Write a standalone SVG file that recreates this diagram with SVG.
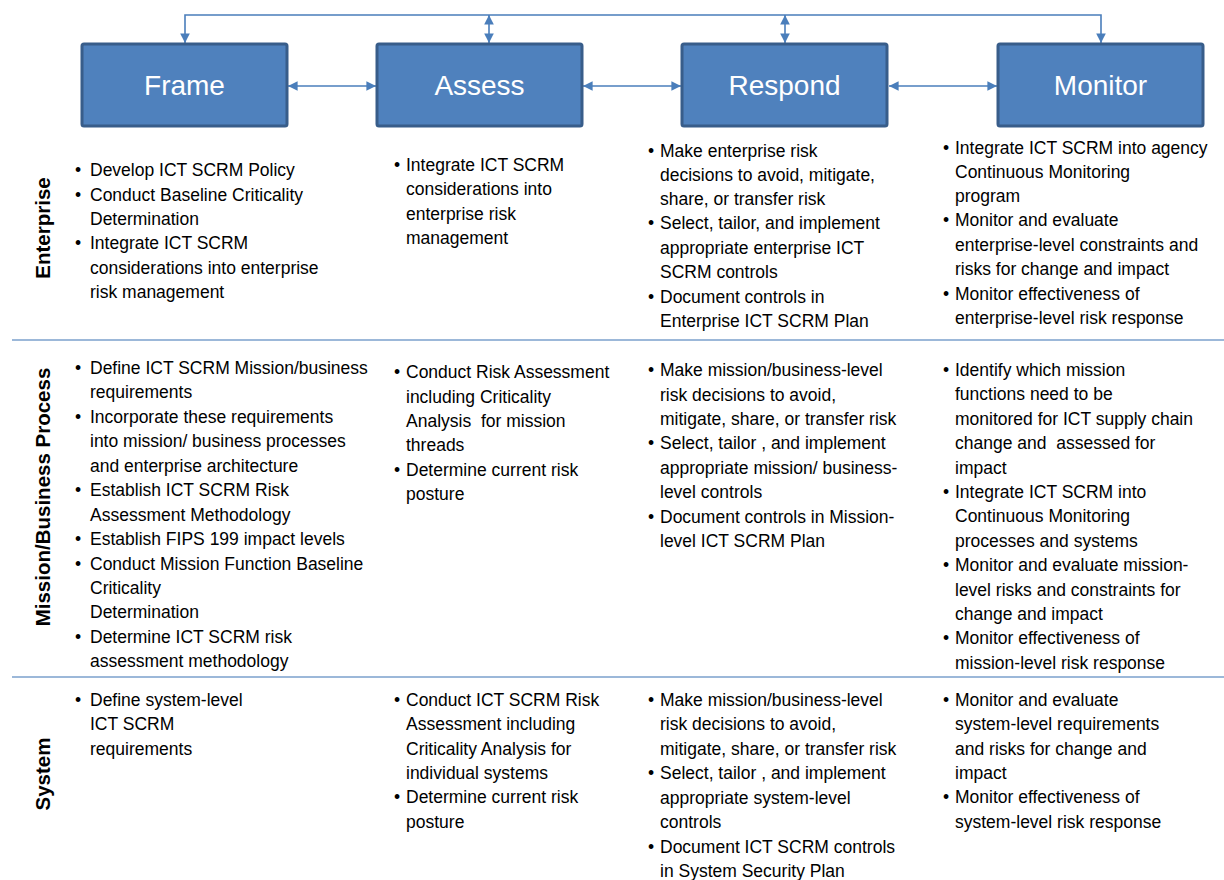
<svg xmlns="http://www.w3.org/2000/svg" width="1224" height="880" viewBox="0 0 1224 880">
<style>
.box{fill:#4f81bd;stroke:#385d8a;stroke-width:3}
.bt{font-family:"Liberation Sans",Arial,sans-serif;font-size:28px;fill:#fff;text-anchor:middle}
.t{font-family:"Liberation Sans",Arial,sans-serif;font-size:17.5px;fill:#000;white-space:pre}
.rl{font-family:"Liberation Sans",Arial,sans-serif;font-size:20.5px;font-weight:bold;fill:#000;text-anchor:middle}
.c{stroke:#4a7ebb;stroke-width:1.6;fill:none}
.sep{stroke:#7ba0cd;stroke-width:1.5}
</style>
<defs>
<marker id="ah" viewBox="0 0 10 10" refX="10" refY="5" markerWidth="6" markerHeight="6" orient="auto-start-reverse" markerUnits="strokeWidth">
<path d="M0,0 L10,5 L0,10 z" fill="#4a7ebb"/>
</marker>
</defs>
<rect width="1224" height="880" fill="#fff"/>
<g id="connectors">
<polyline class="c" points="185,43 185,15 1101,15 1101,43" marker-start="url(#ah)" marker-end="url(#ah)"/>
<line class="c" x1="489" y1="15" x2="489" y2="43" marker-start="url(#ah)" marker-end="url(#ah)"/>
<line class="c" x1="785" y1="15" x2="785" y2="43" marker-start="url(#ah)" marker-end="url(#ah)"/>
<line class="c" x1="288" y1="86" x2="376" y2="86" marker-start="url(#ah)" marker-end="url(#ah)"/>
<line class="c" x1="583" y1="86" x2="681" y2="86" marker-start="url(#ah)" marker-end="url(#ah)"/>
<line class="c" x1="889" y1="86" x2="997" y2="86" marker-start="url(#ah)" marker-end="url(#ah)"/>
</g>
<g id="frame"><rect class="box" x="82" y="44" width="205" height="82" rx="2"/><text class="bt" x="184.5" y="95">Frame</text></g>
<g id="assess"><rect class="box" x="377" y="44" width="205" height="82" rx="2"/><text class="bt" x="479.5" y="95">Assess</text></g>
<g id="respond"><rect class="box" x="682" y="44" width="205" height="82" rx="2"/><text class="bt" x="784.5" y="95">Respond</text></g>
<g id="monitor"><rect class="box" x="998" y="44" width="205" height="82" rx="2"/><text class="bt" x="1100.5" y="95">Monitor</text></g>
<g id="separators">
<line class="sep" x1="12" y1="340" x2="1224" y2="340"/>
<line class="sep" x1="12" y1="677" x2="1224" y2="677"/>
</g>
<g id="row-labels">
<text class="rl" transform="translate(50,228) rotate(-90)">Enterprise</text>
<text class="rl" transform="translate(50,497) rotate(-90)">Mission/Business Process</text>
<text class="rl" transform="translate(50,774) rotate(-90)">System</text>
</g>
<g id="enterprise-frame">
<text class="t" x="75"><tspan y="176">•</tspan><tspan x="75" y="201">•</tspan><tspan x="75" y="249">•</tspan></text>
<text class="t" x="90"><tspan y="176">Develop ICT SCRM Policy</tspan><tspan x="90" y="201">Conduct Baseline Criticality</tspan><tspan x="90" y="225">Determination</tspan><tspan x="90" y="249">Integrate ICT SCRM</tspan><tspan x="90" y="274">considerations into enterprise</tspan><tspan x="90" y="298">risk management</tspan></text>
</g>
<g id="enterprise-assess">
<text class="t" x="394" y="171">•</text>
<text class="t" x="406"><tspan y="171">Integrate ICT SCRM</tspan><tspan x="406" y="195">considerations into</tspan><tspan x="406" y="220">enterprise risk</tspan><tspan x="406" y="244">management</tspan></text>
</g>
<g id="enterprise-respond">
<text class="t" x="648"><tspan y="157">•</tspan><tspan x="648" y="229">•</tspan><tspan x="648" y="303">•</tspan></text>
<text class="t" x="660"><tspan y="157">Make enterprise risk</tspan><tspan x="660" y="181">decisions to avoid, mitigate,</tspan><tspan x="660" y="205">share, or transfer risk</tspan><tspan x="660" y="229">Select, tailor, and implement</tspan><tspan x="660" y="254">appropriate enterprise ICT</tspan><tspan x="660" y="278">SCRM controls</tspan><tspan x="660" y="303">Document controls in</tspan><tspan x="660" y="327">Enterprise ICT SCRM Plan</tspan></text>
</g>
<g id="enterprise-monitor">
<text class="t" x="943"><tspan y="154">•</tspan><tspan x="943" y="226">•</tspan><tspan x="943" y="300">•</tspan></text>
<text class="t" x="955"><tspan y="154">Integrate ICT SCRM into agency</tspan><tspan x="955" y="178">Continuous Monitoring</tspan><tspan x="955" y="202">program</tspan><tspan x="955" y="226">Monitor and evaluate</tspan><tspan x="955" y="251">enterprise-level constraints and</tspan><tspan x="955" y="275">risks for change and impact</tspan><tspan x="955" y="300">Monitor effectiveness of</tspan><tspan x="955" y="324">enterprise-level risk response</tspan></text>
</g>
<g id="mission-frame">
<text class="t" x="75"><tspan y="374">•</tspan><tspan x="75" y="423">•</tspan><tspan x="75" y="496">•</tspan><tspan x="75" y="545">•</tspan><tspan x="75" y="570">•</tspan><tspan x="75" y="643">•</tspan></text>
<text class="t" x="90"><tspan y="374">Define ICT SCRM Mission/business</tspan><tspan x="90" y="398">requirements</tspan><tspan x="90" y="423">Incorporate these requirements</tspan><tspan x="90" y="447">into mission/ business processes</tspan><tspan x="90" y="472">and enterprise architecture</tspan><tspan x="90" y="496">Establish ICT SCRM Risk</tspan><tspan x="90" y="521">Assessment Methodology</tspan><tspan x="90" y="545">Establish FIPS 199 impact levels</tspan><tspan x="90" y="570">Conduct Mission Function Baseline</tspan><tspan x="90" y="594">Criticality</tspan><tspan x="90" y="618">Determination</tspan><tspan x="90" y="643">Determine ICT SCRM risk</tspan><tspan x="90" y="667">assessment methodology</tspan></text>
</g>
<g id="mission-assess">
<text class="t" x="394"><tspan y="378">•</tspan><tspan x="394" y="476">•</tspan></text>
<text class="t" x="406"><tspan y="378">Conduct Risk Assessment</tspan><tspan x="406" y="403">including Criticality</tspan><tspan x="406" y="427">Analysis  for mission</tspan><tspan x="406" y="451">threads</tspan><tspan x="406" y="476">Determine current risk</tspan><tspan x="406" y="500">posture</tspan></text>
</g>
<g id="mission-respond">
<text class="t" x="648"><tspan y="376">•</tspan><tspan x="648" y="449">•</tspan><tspan x="648" y="523">•</tspan></text>
<text class="t" x="660"><tspan y="376">Make mission/business-level</tspan><tspan x="660" y="401">risk decisions to avoid,</tspan><tspan x="660" y="425">mitigate, share, or transfer risk</tspan><tspan x="660" y="449">Select, tailor , and implement</tspan><tspan x="660" y="474">appropriate mission/ business-</tspan><tspan x="660" y="498">level controls</tspan><tspan x="660" y="523">Document controls in Mission-</tspan><tspan x="660" y="547">level ICT SCRM Plan</tspan></text>
</g>
<g id="mission-monitor">
<text class="t" x="943"><tspan y="376">•</tspan><tspan x="943" y="498">•</tspan><tspan x="943" y="571">•</tspan><tspan x="943" y="644">•</tspan></text>
<text class="t" x="955"><tspan y="376">Identify which mission</tspan><tspan x="955" y="400">functions need to be</tspan><tspan x="955" y="425">monitored for ICT supply chain</tspan><tspan x="955" y="449">change and  assessed for</tspan><tspan x="955" y="474">impact</tspan><tspan x="955" y="498">Integrate ICT SCRM into</tspan><tspan x="955" y="522">Continuous Monitoring</tspan><tspan x="955" y="547">processes and systems</tspan><tspan x="955" y="571">Monitor and evaluate mission-</tspan><tspan x="955" y="596">level risks and constraints for</tspan><tspan x="955" y="620">change and impact</tspan><tspan x="955" y="644">Monitor effectiveness of</tspan><tspan x="955" y="669">mission-level risk response</tspan></text>
</g>
<g id="system-frame">
<text class="t" x="75" y="706">•</text>
<text class="t" x="90"><tspan y="706">Define system-level</tspan><tspan x="90" y="730">ICT SCRM</tspan><tspan x="90" y="755">requirements</tspan></text>
</g>
<g id="system-assess">
<text class="t" x="394"><tspan y="706">•</tspan><tspan x="394" y="803">•</tspan></text>
<text class="t" x="406"><tspan y="706">Conduct ICT SCRM Risk</tspan><tspan x="406" y="730">Assessment including</tspan><tspan x="406" y="755">Criticality Analysis for</tspan><tspan x="406" y="779">individual systems</tspan><tspan x="406" y="803">Determine current risk</tspan><tspan x="406" y="828">posture</tspan></text>
</g>
<g id="system-respond">
<text class="t" x="648"><tspan y="706">•</tspan><tspan x="648" y="779">•</tspan><tspan x="648" y="853">•</tspan></text>
<text class="t" x="660"><tspan y="706">Make mission/business-level</tspan><tspan x="660" y="730">risk decisions to avoid,</tspan><tspan x="660" y="755">mitigate, share, or transfer risk</tspan><tspan x="660" y="779">Select, tailor , and implement</tspan><tspan x="660" y="804">appropriate system-level</tspan><tspan x="660" y="828">controls</tspan><tspan x="660" y="853">Document ICT SCRM controls</tspan><tspan x="660" y="877">in System Security Plan</tspan></text>
</g>
<g id="system-monitor">
<text class="t" x="943"><tspan y="706">•</tspan><tspan x="943" y="803">•</tspan></text>
<text class="t" x="955"><tspan y="706">Monitor and evaluate</tspan><tspan x="955" y="730">system-level requirements</tspan><tspan x="955" y="755">and risks for change and</tspan><tspan x="955" y="779">impact</tspan><tspan x="955" y="803">Monitor effectiveness of</tspan><tspan x="955" y="828">system-level risk response</tspan></text>
</g>
</svg>
